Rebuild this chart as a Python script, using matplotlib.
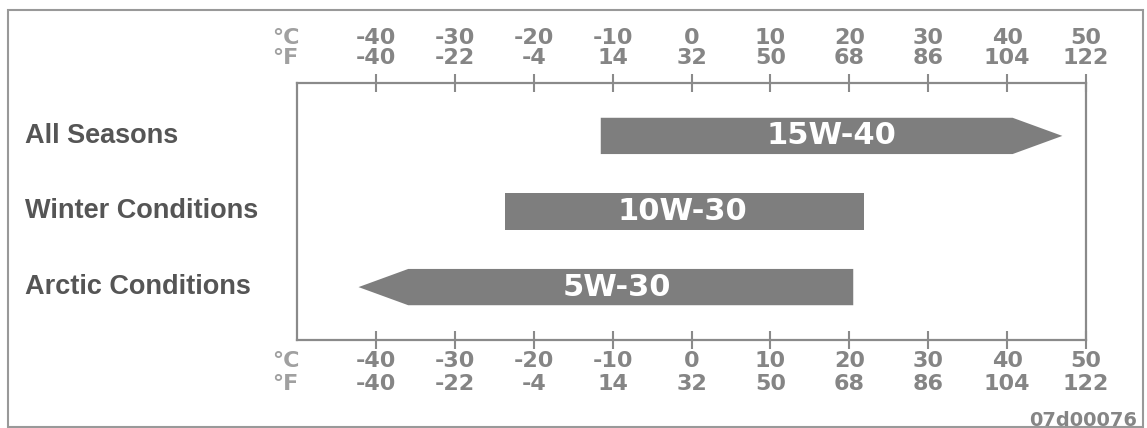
import matplotlib
matplotlib.use('Agg')
import matplotlib.pyplot as plt
from matplotlib.patches import Polygon, Rectangle
from matplotlib.transforms import blended_transform_factory

# oil grades and temperature ranges (deg C)
conditions = ['All Seasons', 'Winter Conditions', 'Arctic Conditions']
grades = ['15W-40', '10W-30', '5W-30']
range_low = [-11.5, -23.6, -42.2]
range_high = [47.0, 21.9, 20.5]
arrow_side = ['right', None, 'left']
grade_label_x = [17.7, -1.1, -9.4]

celsius_ticks = [-40, -30, -20, -10, 0, 10, 20, 30, 40, 50]
fahrenheit_ticks = [-40, -22, -4, 14, 32, 50, 68, 86, 104, 122]

W, H = 1147, 428
fig = plt.figure(figsize=(W / 100, H / 100), dpi=100)
ax = fig.add_axes([297 / W, (H - 340) / H, (1086 - 297) / W, (340 - 83) / H])

bar_h = 0.48
head = 6.3
bar_color = '#7e7e7e'
axis_color = '#8a8a8a'
tick_text = '#858585'

for i, (lo, hi, side) in enumerate(zip(range_low, range_high, arrow_side)):
    y0, y1 = i - bar_h / 2, i + bar_h / 2
    if side == 'right':
        pts = [(lo, y0), (hi - head, y0), (hi, i), (hi - head, y1), (lo, y1)]
    elif side == 'left':
        pts = [(lo, i), (lo + head, y0), (hi, y0), (hi, y1), (lo + head, y1)]
    else:
        pts = [(lo, y0), (hi, y0), (hi, y1), (lo, y1)]
    ax.add_patch(Polygon(pts, closed=True, facecolor=bar_color, edgecolor='none'))
    ax.text(grade_label_x[i], i, grades[i], ha='center', va='center',
            color='white', fontsize=22, fontweight='bold', family='DejaVu Sans')

ax.set_xlim(-50, 50)
ax.set_ylim(2.7, -0.7)
ax.set_yticks([])
ax.set_xticks(celsius_ticks)
ax.set_xticklabels([])
ax.tick_params(axis='x', top=True, bottom=True, direction='inout',
               length=13, width=1.5, color=axis_color)
for sp in ax.spines.values():
    sp.set_color(axis_color)
    sp.set_linewidth(1.6)

# two-row temperature scales, top and bottom
xt = ax.get_xaxis_transform()
rows = [(1.175, celsius_ticks, '°C'), (1.097, fahrenheit_ticks, '°F'),
        (-0.082, celsius_ticks, '°C'), (-0.171, fahrenheit_ticks, '°F')]
for y, vals, unit in rows:
    for c, v in zip(celsius_ticks, vals):
        ax.text(c, y, str(v), transform=xt, ha='center', va='center',
                fontsize=16, fontweight='bold', color=tick_text, clip_on=False)
    ax.text(-53.2, y, unit, transform=xt, ha='left', va='center',
            fontsize=16, fontweight='bold', color='#a0a0a0', clip_on=False)

# condition labels on the left
lt = blended_transform_factory(fig.transFigure, ax.transData)
for i, name in enumerate(conditions):
    ax.text(25 / W, i, name, transform=lt, ha='left', va='center',
            fontsize=19.5, fontweight='bold', color='#555555',
            family='Liberation Sans', clip_on=False)

fig.text(1137 / W, (H - 420) / H, '07d00076', ha='right', va='center',
         fontsize=14, fontweight='bold', color=tick_text)

fig.patches.append(Rectangle((8 / W, 1 / H), (1143 - 8) / W, (H - 11) / H,
                             transform=fig.transFigure, fill=False,
                             edgecolor='#999999', linewidth=1.5))

fig.savefig('out.png', dpi=100)
